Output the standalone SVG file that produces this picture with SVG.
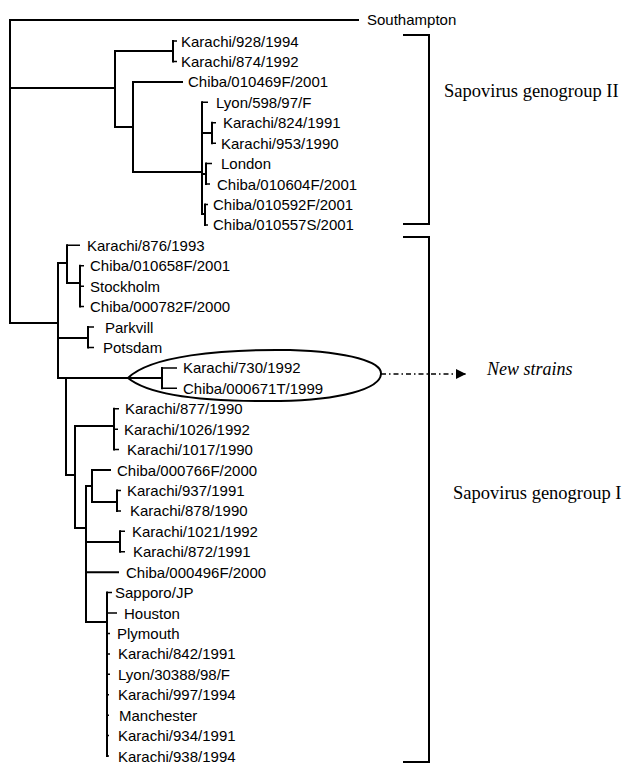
<svg xmlns="http://www.w3.org/2000/svg" width="629" height="764" viewBox="0 0 629 764">
<style>
.bg{fill:#fff}
.br{fill:none;stroke:#000;stroke-width:2;stroke-linecap:square}
.tk{fill:none;stroke:#000;stroke-width:1.5}
.lb{font-family:"Liberation Sans",Arial,sans-serif;font-size:15px;fill:#000}
.gp{font-family:"Liberation Serif","Times New Roman",serif;font-size:18.5px;fill:#000}
.ns{font-family:"Liberation Serif","Times New Roman",serif;font-size:18px;font-style:italic;fill:#000}
.bk{fill:none;stroke:#000;stroke-width:2}
.dd{fill:none;stroke:#000;stroke-width:1.5;stroke-dasharray:5 3 1.5 3}
</style>
<defs>
<marker id="ah" viewBox="0 0 10 10" refX="10" refY="5" markerWidth="10" markerHeight="10" markerUnits="userSpaceOnUse" orient="auto">
<path d="M0,0 L10,5 L0,10 Z" fill="#000"/>
</marker>
</defs>
<rect class="bg" width="629" height="764"/>
<g id="connectors">
<path class="br" d="M10,20 H358 M10,20 V323 M10,88 H115 M10,323 H58
M115,51 V127 M115,51 H173 M173,41 V61.4 M115,127 H133 M133,81.9 V172 M133,81.9 H182 M133,172 H202
M202,102.3 V214 M202,133 H212 M212,122.7 V143.2 M202,174 H206 M206,163.6 V184 M202,214 H205 M205,204.4 V224.9
M58,263 V378 M58,263 H67 M67,245.3 V283 M67,283 H80 M80,265.7 V306.6
M58,338 H88 M88,327 V347.5 M58,378 H162 M162,367.9 V388.3
M66,378 V475 M66,475 H75 M75,426 V528 M75,426 H114 M114,408.7 V449.6
M75,528 H86 M86,486 V622 M86,486 H92 M92,470 V502 M92,470 H110 M92,502 H117 M117,490.5 V510.9
M86,542 H120 M120,531.3 V551.8 M86,572.2 H118 M86,622 H107 M107,592.6 V756.1"/>
<path class="tk" d="M173,41 H177 M173,61.4 H177 M202,102.3 H208 M212,122.7 H216 M212,143.2 H216 M206,163.6 H212 M206,184 H210 M205,204.4 H208 M205,224.9 H208
M67,245.3 H80 M80,265.7 H84 M80,286.2 H84 M80,306.6 H84 M88,327 H94 M88,347.5 H94 M162,367.9 H177 M162,388.3 H177
M114,408.7 H119 M114,429.2 H118 M114,449.6 H119 M117,490.5 H121 M117,510.9 H121 M120,531.3 H125 M120,551.8 H125
M107,592.6 H112 M107,613 H117 M107,633.5 H110 M107,653.9 H110 M107,674.3 H110 M107,694.8 H109 M107,715.2 H109 M107,735.6 H109 M107,756.1 H109"/>
<path class="dd" d="M381,374 H466" marker-end="url(#ah)"/>
</g>
<g id="new-strains-highlight">
<path class="bk" stroke-width="1.8" d="M128,378 C150,356 220,349 290,350 C350,352 382,362 381,374 C380,389 340,400 280,401 C210,402 150,396 128,378 Z"/>
</g>
<g id="node-southampton"><text class="lb" x="367" y="25">Southampton</text></g>
<g id="node-k928"><text class="lb" x="181" y="46.5">Karachi/928/1994</text></g>
<g id="node-k874"><text class="lb" x="181" y="66.9">Karachi/874/1992</text></g>
<g id="node-c010469f"><text class="lb" x="188" y="87.4">Chiba/010469F/2001</text></g>
<g id="node-lyon598"><text class="lb" x="216" y="107.8">Lyon/598/97/F</text></g>
<g id="node-k824"><text class="lb" x="223" y="128.2">Karachi/824/1991</text></g>
<g id="node-k953"><text class="lb" x="221" y="148.7">Karachi/953/1990</text></g>
<g id="node-london"><text class="lb" x="221" y="169.1">London</text></g>
<g id="node-c010604f"><text class="lb" x="217" y="189.5">Chiba/010604F/2001</text></g>
<g id="node-c010592f"><text class="lb" x="213" y="209.9">Chiba/010592F/2001</text></g>
<g id="node-c010557s"><text class="lb" x="213" y="230.4">Chiba/010557S/2001</text></g>
<g id="node-k876"><text class="lb" x="87" y="250.8">Karachi/876/1993</text></g>
<g id="node-c010658f"><text class="lb" x="90" y="271.2">Chiba/010658F/2001</text></g>
<g id="node-stockholm"><text class="lb" x="90" y="291.7">Stockholm</text></g>
<g id="node-c000782f"><text class="lb" x="90" y="312.1">Chiba/000782F/2000</text></g>
<g id="node-parkvill"><text class="lb" x="105" y="332.5">Parkvill</text></g>
<g id="node-potsdam"><text class="lb" x="103" y="353">Potsdam</text></g>
<g id="node-k730"><text class="lb" x="183" y="373.4">Karachi/730/1992</text></g>
<g id="node-c000671t"><text class="lb" x="183" y="393.8">Chiba/000671T/1999</text></g>
<g id="node-k877"><text class="lb" x="125" y="414.2">Karachi/877/1990</text></g>
<g id="node-k1026"><text class="lb" x="124" y="434.7">Karachi/1026/1992</text></g>
<g id="node-k1017"><text class="lb" x="127" y="455.1">Karachi/1017/1990</text></g>
<g id="node-c000766f"><text class="lb" x="117" y="475.5">Chiba/000766F/2000</text></g>
<g id="node-k937"><text class="lb" x="127" y="496">Karachi/937/1991</text></g>
<g id="node-k878"><text class="lb" x="130" y="516.4">Karachi/878/1990</text></g>
<g id="node-k1021"><text class="lb" x="132" y="536.8">Karachi/1021/1992</text></g>
<g id="node-k872"><text class="lb" x="133" y="557.3">Karachi/872/1991</text></g>
<g id="node-c000496f"><text class="lb" x="126" y="577.7">Chiba/000496F/2000</text></g>
<g id="node-sapporo"><text class="lb" x="115" y="598.1">Sapporo/JP</text></g>
<g id="node-houston"><text class="lb" x="124" y="618.5">Houston</text></g>
<g id="node-plymouth"><text class="lb" x="117" y="639">Plymouth</text></g>
<g id="node-k842"><text class="lb" x="118" y="659.4">Karachi/842/1991</text></g>
<g id="node-lyon30388"><text class="lb" x="118" y="679.8">Lyon/30388/98/F</text></g>
<g id="node-k997"><text class="lb" x="118" y="700.3">Karachi/997/1994</text></g>
<g id="node-manchester"><text class="lb" x="119" y="720.7">Manchester</text></g>
<g id="node-k934"><text class="lb" x="118" y="741.1">Karachi/934/1991</text></g>
<g id="node-k938"><text class="lb" x="118" y="761.6">Karachi/938/1994</text></g>
<g id="group-ii">
<path class="bk" d="M403,35 H429 V224 H403"/>
<text class="gp" x="444" y="97">Sapovirus genogroup II</text>
</g>
<g id="group-i">
<path class="bk" d="M403,237 H429 V762 H403"/>
<text class="gp" x="453" y="499" font-size="18px">Sapovirus genogroup I</text>
</g>
<g id="new-strains-label"><text class="ns" x="487" y="375">New strains</text></g>
</svg>
